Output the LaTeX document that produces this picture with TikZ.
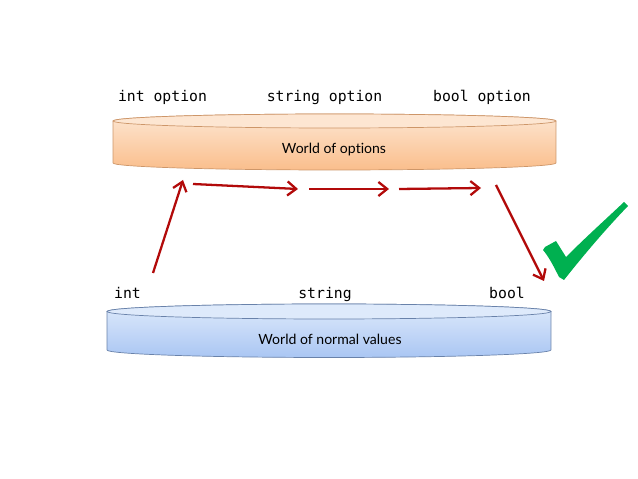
\documentclass[tikz,border=0pt]{standalone}
\usepackage{fontspec}
\setmonofont{DejaVu Sans Mono}
\newfontfamily\worldfont[Ligatures={NoCommon,NoContextual,NoRare}]{Lato}
\usetikzlibrary{arrows.meta}
\definecolor{myred}{RGB}{178,10,10}
\definecolor{mygreen}{RGB}{0,176,80}
\definecolor{optlight}{RGB}{253,230,210}
\definecolor{optdark}{RGB}{250,190,140}
\definecolor{optline}{RGB}{205,150,105}
\definecolor{vallight}{RGB}{222,234,251}
\definecolor{valdark}{RGB}{170,198,243}
\definecolor{valline}{RGB}{105,130,170}

\begin{document}
\begin{tikzpicture}[x=0.02cm, y=0.02cm,
    lbl/.style={font=\ttfamily\fontsize{8.4}{10}\selectfont, anchor=base},
    world/.style={font=\worldfont\fontsize{8}{10}\selectfont},
    arr/.style={myred, line width=1.3pt, -{Straight Barb[length=5pt, width=8pt]}}]
    \useasboundingbox (0,0) rectangle (638,479);

    % World of options
    \shade[top color=optlight, bottom color=optdark, draw=optline, thin]
        (113,358) -- (113,316) arc[start angle=180, end angle=360, x radius=4.43cm, y radius=0.14cm]
        -- (556,358) arc[start angle=0, end angle=180, x radius=4.43cm, y radius=0.14cm] -- cycle;
    \draw[fill=optlight, draw=optline, thin] (334.5,358) ellipse[x radius=4.43cm, y radius=0.14cm];
    \node[world] (optw) at (334,329) {World of options};

    % World of normal values
    \shade[top color=vallight, bottom color=valdark, draw=valline, thin]
        (107,167.5) -- (107,129) arc[start angle=180, end angle=360, x radius=4.44cm, y radius=0.15cm]
        -- (551,167.5) arc[start angle=0, end angle=180, x radius=4.44cm, y radius=0.15cm] -- cycle;
    \draw[fill=vallight, draw=valline, thin] (329,167.5) ellipse[x radius=4.44cm, y radius=0.15cm];
    \node[world] (valw) at (330,140) {World of normal values};

    % Types
    \node[lbl] (intopt) at (162.5,377) {int option};
    \node[lbl] (stropt) at (324.5,377) {string option};
    \node[lbl] (boolopt) at (482,377) {bool option};
    \node[lbl] (intv) at (127.5,180) {int};
    \node[lbl] (strv) at (325,180) {string};
    \node[lbl] (boolv) at (507,180) {bool};

    % Arrows
    \coordinate (a0) at (153,206);
    \coordinate (a1) at (183,299);
    \coordinate (b0) at (193,295);
    \coordinate (b1) at (298,290);
    \coordinate (c0) at (309,290);
    \coordinate (c1) at (389,290);
    \coordinate (d0) at (399,290);
    \coordinate (d1) at (481,291);
    \coordinate (e0) at (496,294);
    \coordinate (e1) at (544,198);
    \draw[arr] (a0) -- (a1);
    \draw[arr] (b0) -- (b1);
    \draw[arr] (c0) -- (c1);
    \draw[arr] (d0) -- (d1);
    \draw[arr] (e0) -- (e1);

    % Check mark
    \fill[mygreen] (545,232) -- (556,238) -- (566,222)
        .. controls (586,242) and (606,260) .. (624,277) -- (628,273)
        .. controls (602,246) and (579,218) .. (564,199) -- (559,202)
        .. controls (554,212) and (549,222) .. (543,229) -- cycle;
\end{tikzpicture}
\end{document}
